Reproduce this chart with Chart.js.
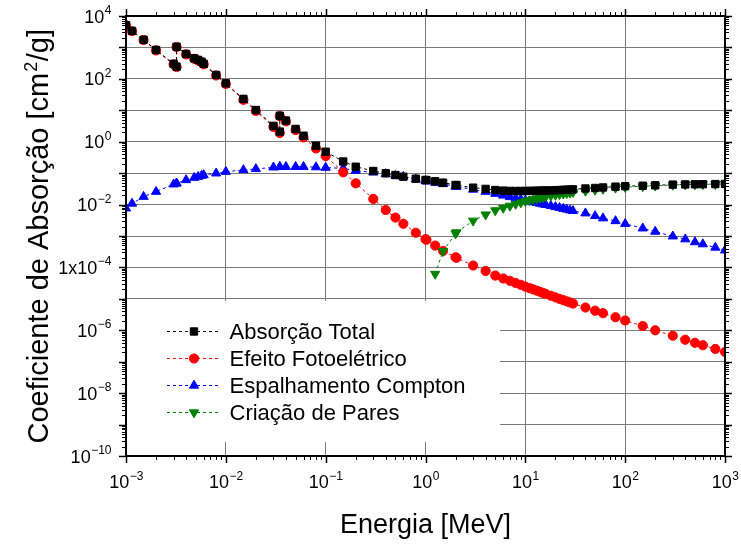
<!DOCTYPE html>
<html>
<head>
<meta charset="utf-8">
<title>Coeficiente de Absorção</title>
<script src="https://cdn.jsdelivr.net/npm/chart.js@4/dist/chart.umd.min.js"></script>
<style>
  html, body { margin: 0; padding: 0; background: #fff; }
  #grafico { display: block; }
</style>
</head>
<body>
<canvas id="grafico" width="741" height="549"></canvas>
<script>
// Energias [MeV] (grade comum a todas as séries)
const energia = [
    0.001, 0.00115, 0.0015, 0.002, 0.003, 0.00321, 0.00321, 0.004, 0.00482, 0.00528, 0.00571, 0.006, 0.008,
    0.01, 0.015, 0.02, 0.03, 0.0347, 0.0347, 0.04, 0.05, 0.06, 0.08,
    0.1, 0.15, 0.2, 0.3, 0.4, 0.5, 0.6, 0.8,
    1, 1.022, 1.25, 1.5, 2, 2.044, 3, 4, 5, 6, 7, 8, 9,
    10, 11, 12, 13, 14, 15, 16, 18, 20, 22, 24, 26, 28, 30, 40, 50, 60, 80,
    100, 150, 200, 300, 400, 500, 600, 800, 1000
];

// Coeficientes [cm2/g]
const absorcao_total = [
    5100, 3350, 1750, 830, 300, 245, 1050, 620, 450, 400, 350, 300, 133,
    72, 23, 10.2, 3.2, 2.1, 6.7, 4.7, 2.55, 1.55, 0.75,
    0.48, 0.235, 0.16, 0.117, 0.099, 0.087, 0.077, 0.0665,
    0.0605, 0.06, 0.0551, 0.0497, 0.042, 0.0416, 0.0345, 0.0315, 0.029, 0.0278, 0.0272, 0.027, 0.027,
    0.0271, 0.0272, 0.0273, 0.0275, 0.0276, 0.0278, 0.028, 0.0283, 0.0287, 0.029, 0.0294, 0.0297, 0.03, 0.0304, 0.0325, 0.0337, 0.035, 0.0371,
    0.0385, 0.0398, 0.041, 0.0432, 0.0438, 0.0442, 0.0445, 0.045, 0.0454
];

const efeito_fotoeletrico = [
    5050, 3300, 1720, 805, 290, 238, 1030, 600, 435, 385, 340, 290, 128,
    69, 21.5, 9.5, 2.95, 1.9, 6.5, 4.45, 2.35, 1.37, 0.61,
    0.35, 0.106, 0.0475, 0.0151, 0.0067, 0.00385, 0.00245, 0.00127,
    7.9e-4, 7.6e-4, 4.95e-4, 3.35e-4, 2.1e-4, 2.03e-4, 1.15e-4, 7.7e-5, 5.5e-5, 4.45e-5, 3.75e-5, 3.2e-5, 2.8e-5,
    2.45e-5, 2.2e-5, 2.0e-5, 1.83e-5, 1.68e-5, 1.55e-5, 1.44e-5, 1.26e-5, 1.12e-5, 1.0e-5, 9.1e-6, 8.3e-6, 7.7e-6, 7.1e-6, 5.3e-6, 4.2e-6, 3.5e-6, 2.6e-6,
    2.05e-6, 1.37e-6, 1.0e-6, 6.7e-7, 5.0e-7, 4.0e-7, 3.35e-7, 2.55e-7, 2.05e-7
];

const espalhamento_compton = [
    0.0076, 0.0108, 0.0178, 0.0257, 0.0442, 0.0475, 0.0475, 0.0605, 0.0716, 0.0771, 0.083, 0.0873, 0.0988,
    0.111, 0.126, 0.136, 0.153, 0.158, 0.158, 0.16, 0.16, 0.16, 0.155,
    0.15, 0.142, 0.12, 0.106, 0.094, 0.083, 0.077, 0.0637,
    0.0562, 0.0556, 0.0497, 0.0452, 0.0376, 0.0371, 0.0302, 0.0257, 0.0222, 0.0195, 0.0175, 0.016, 0.0147,
    0.0137, 0.0128, 0.012, 0.0114, 0.0108, 0.0103, 0.0098, 0.0091, 0.0084, 0.0079, 0.0074, 0.007, 0.0066, 0.0063, 0.0053, 0.00435, 0.00368, 0.003,
    0.00245, 0.00176, 0.00138, 0.00098, 0.00079, 0.00064, 0.00055, 0.00043, 0.00035
];

const criacao_pares = [
    null, null, null, null, null, null, null, null, null, null, null, null, null,
    null, null, null, null, null, null, null, null, null, null,
    null, null, null, null, null, null, null, null,
    null, null, 6.2e-5, 3.3e-4, 1.2e-3, 1.3e-3, 3.05e-3, 4.8e-3, 6.5e-3, 7.8e-3, 9.1e-3, 0.0104, 0.0116,
    0.0128, 0.0138, 0.0147, 0.0156, 0.0164, 0.0171, 0.0178, 0.0191, 0.0202, 0.0212, 0.0221, 0.023, 0.0238, 0.0246, 0.0272, 0.0294, 0.0313, 0.0341,
    0.036, 0.038, 0.0396, 0.0422, 0.043, 0.0436, 0.044, 0.0446, 0.045
];

const nomes_series = ['Absorção Total', 'Efeito Fotoelétrico', 'Espalhamento Compton', 'Criação de Pares'];

// Eixos
const decadas_x = [1e-3, 1e-2, 1e-1, 1e0, 1e1, 1e2, 1e3];
const expoentes_x = ['\u22123', '\u22122', '\u22121', '0', '1', '2', '3'];
const decadas_y = [1e-10, 1e-9, 1e-8, 1e-7, 1e-6, 1e-5, 1e-4, 1e-3, 1e-2, 1e-1, 1e0, 1e1, 1e2, 1e3, 1e4];
const rotulos_y_valor = [1e4, 1e2, 1e0, 1e-2, 1e-4, 1e-6, 1e-8, 1e-10];
const rotulos_y_base = ['10', '10', '10', '10', '1x10', '10', '10', '10'];
const rotulos_y_expoente = ['4', '2', '0', '\u22122', '\u22124', '\u22126', '\u22128', '\u221210'];
const titulo_x = 'Energia [MeV]';
const titulo_y = ['Coeficiente de Absorção [cm', '2', '/g]'];

const FONTE = '"Liberation Sans", Arial, Helvetica, sans-serif';
function fonte(tamanho) { return tamanho + 'px ' + FONTE; }

// estilo de cada série (mesma ordem da legenda)
const estilos = [
    { cor: '#000000', ponto: 'rect', raio: 5.2, rotacao: 0, ordem: 1 },
    { cor: '#ff0000', ponto: 'circle', raio: 4.6, rotacao: 0, ordem: 3 },
    { cor: '#0000ff', ponto: 'triangle', raio: 5.3, rotacao: 0, ordem: 4 },
    { cor: '#008000', ponto: 'triangle', raio: 5.3, rotacao: 180, ordem: 2 }
];
const series = [absorcao_total, efeito_fotoeletrico, espalhamento_compton, criacao_pares];

function pontos(valores) {
    return energia.map((e, i) => ({ x: e, y: valores[i] }));
}

// texto do tipo 10^n com expoente sobrescrito
function potencia(ctx, base, expoente, x, y, alinhamento) {
    ctx.font = fonte(18);
    const wb = ctx.measureText(base).width;
    ctx.font = fonte(12);
    const we = ctx.measureText(expoente).width;
    const x0 = alinhamento === 'right' ? x - wb - we : x - (wb + we) / 2;
    ctx.textAlign = 'left';
    ctx.textBaseline = 'alphabetic';
    ctx.font = fonte(18);
    ctx.fillText(base, x0, y);
    ctx.font = fonte(12);
    ctx.fillText(expoente, x0 + wb + 0.5, y - 8.5);
}

const moldura = {
    id: 'moldura',
    beforeDatasetsDraw(chart) {
        // legenda interna com fundo branco (tapa a grade)
        const ctx = chart.ctx;
        ctx.save();
        ctx.fillStyle = '#ffffff';
        ctx.fillRect(127, 301, 373, 141);
        chart.data.datasets.forEach((ds, i) => {
            const y = 331.5 + i * 27;
            ctx.strokeStyle = ds.borderColor;
            ctx.lineWidth = 1;
            ctx.setLineDash([3, 3]);
            ctx.beginPath();
            ctx.moveTo(167, y);
            ctx.lineTo(221, y);
            ctx.stroke();
            ctx.setLineDash([]);
            ctx.fillStyle = ds.pointBackgroundColor;
            ctx.strokeStyle = ds.pointBorderColor;
            Chart.helpers.drawPoint(ctx, {
                pointStyle: ds.pointStyle,
                rotation: ds.pointRotation,
                radius: ds.pointRadius,
                borderWidth: 1
            }, 194, y);
            ctx.fillStyle = '#000';
            ctx.font = fonte(22);
            ctx.textAlign = 'left';
            ctx.textBaseline = 'alphabetic';
            ctx.fillText(ds.label, 229.5, y + 7.8);
        });
        ctx.restore();
    },
    afterDraw(chart) {
        const ctx = chart.ctx;
        const { left, right, top, bottom } = chart.chartArea;
        const ex = chart.scales.x;
        const ey = chart.scales.y;
        ctx.save();
        ctx.strokeStyle = '#000';

        // marcas dos eixos (maiores nas décadas, menores em 2..9)
        function marcas(decadas, desenha) {
            decadas.forEach((d, i) => {
                desenha(d, true);
                if (i < decadas.length - 1) {
                    for (let k = 2; k <= 9; k++) desenha(d * k, false);
                }
            });
        }
        marcas(decadas_x, (v, maior) => {
            const px = Math.round(ex.getPixelForValue(v)) + 0.5;
            const t = maior ? 7 : 4;
            ctx.lineWidth = maior ? 1.5 : 1;
            ctx.beginPath();
            ctx.moveTo(px, bottom); ctx.lineTo(px, bottom + t);
            ctx.moveTo(px, top); ctx.lineTo(px, top - t);
            ctx.stroke();
        });
        marcas(decadas_y, (v, maior) => {
            const py = Math.round(ey.getPixelForValue(v)) + 0.5;
            const t = maior ? 7 : 4;
            ctx.lineWidth = maior ? 1.5 : 1;
            ctx.beginPath();
            ctx.moveTo(left, py); ctx.lineTo(left - t, py);
            ctx.moveTo(right, py); ctx.lineTo(right + t, py);
            ctx.stroke();
        });

        // moldura
        ctx.lineWidth = 2;
        ctx.strokeRect(left, top, right - left, bottom - top);

        // rótulos
        ctx.fillStyle = '#000';
        decadas_x.forEach((v, i) => {
            potencia(ctx, '10', expoentes_x[i], ex.getPixelForValue(v), 488);
        });
        rotulos_y_valor.forEach((v, i) => {
            potencia(ctx, rotulos_y_base[i], rotulos_y_expoente[i], 111, ey.getPixelForValue(v) + 6.5, 'right');
        });

        // títulos
        ctx.font = fonte(27);
        ctx.textAlign = 'center';
        ctx.textBaseline = 'alphabetic';
        ctx.fillText(titulo_x, (left + right) / 2, 532.5);

        ctx.translate(38, 237);
        ctx.rotate(-Math.PI / 2);
        ctx.font = fonte(29);
        const w1 = ctx.measureText(titulo_y[0]).width;
        const w3 = ctx.measureText(titulo_y[2]).width;
        ctx.font = fonte(18);
        const w2 = ctx.measureText(titulo_y[1]).width;
        let x0 = -(w1 + w2 + w3) / 2;
        ctx.textAlign = 'left';
        ctx.font = fonte(29);
        ctx.fillText(titulo_y[0], x0, 10.4);
        ctx.font = fonte(18);
        ctx.fillText(titulo_y[1], x0 + w1 + 1, -1.5);
        ctx.font = fonte(29);
        ctx.fillText(titulo_y[2], x0 + w1 + w2 + 1.5, 10.4);
        ctx.restore();
    }
};

const datasets = series.map((valores, i) => ({
    label: nomes_series[i],
    data: pontos(valores),
    borderColor: estilos[i].cor,
    backgroundColor: estilos[i].cor,
    borderWidth: 1,
    borderDash: [3, 3],
    pointStyle: estilos[i].ponto,
    pointRadius: estilos[i].raio,
    pointRotation: estilos[i].rotacao,
    pointBackgroundColor: estilos[i].cor,
    pointBorderColor: estilos[i].cor,
    pointBorderWidth: 1,
    fill: false,
    tension: 0,
    order: estilos[i].ordem
}));

new Chart(document.getElementById('grafico'), {
    type: 'line',
    data: { datasets: datasets },
    options: {
        responsive: false,
        animation: false,
        devicePixelRatio: 1,
        layout: { padding: { left: 126, right: 16, top: 16, bottom: 93 } },
        plugins: {
            legend: { display: false },
            tooltip: { enabled: false }
        },
        scales: {
            x: {
                type: 'logarithmic',
                min: 1e-3,
                max: 1e3,
                afterBuildTicks: (escala) => { escala.ticks = decadas_x.map(v => ({ value: v })); },
                ticks: { display: false },
                grid: { color: '#7a7a7a', lineWidth: 1, drawTicks: false },
                border: { display: false },
                title: { display: false }
            },
            y: {
                type: 'logarithmic',
                min: 1e-10,
                max: 1e4,
                afterBuildTicks: (escala) => { escala.ticks = decadas_y.map(v => ({ value: v })); },
                ticks: { display: false },
                grid: { color: '#7a7a7a', lineWidth: 1, drawTicks: false },
                border: { display: false },
                title: { display: false }
            }
        }
    },
    plugins: [moldura]
});
</script>
</body>
</html>
